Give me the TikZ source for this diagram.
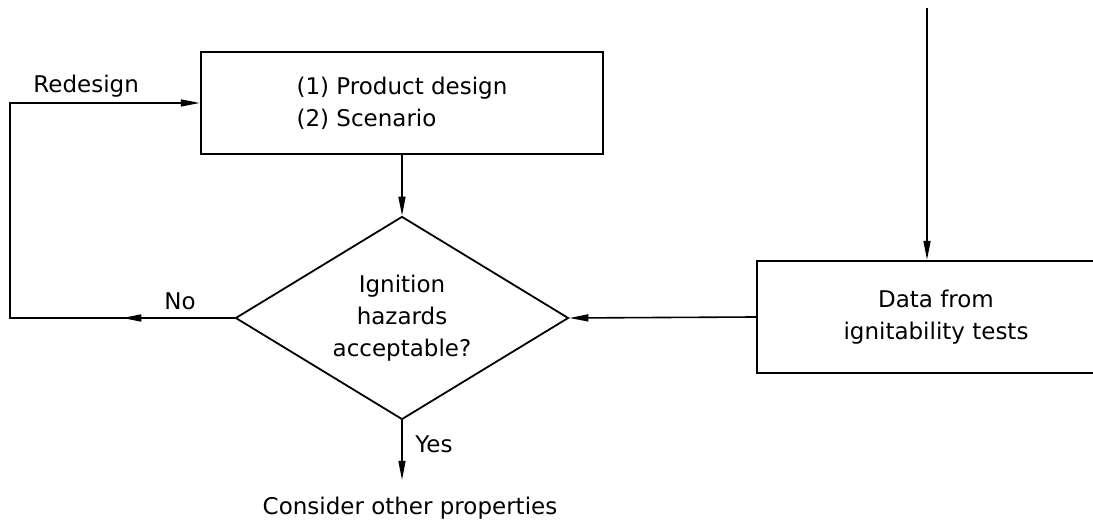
\documentclass[tikz,border=0pt]{standalone}
\usepackage{fontspec}
\setmainfont{DejaVu Sans}
\usetikzlibrary{shapes.geometric,arrows.meta,calc}

\begin{document}
\begin{tikzpicture}[x=0.5pt,y=-0.5pt,
    box/.style={draw,line width=1.2pt,minimum width=201pt,minimum height=51pt,inner sep=0pt},
    test/.style={diamond,draw,line width=0.9pt,aspect=1.64,minimum width=166.5pt,minimum height=101.5pt,inner sep=0pt,align=center},
    link/.style={line width=0.8pt},
    flow/.style={link,-{Triangle[length=9.5pt,width=3.5pt]}},
    lbl/.style={inner sep=0pt},
    font=\fontsize{11.5}{16}\selectfont]
       \useasboundingbox (0,0) rectangle (1093,528);
       \node[box,align=left] (design) at (402,103) {(1) Product design\\(2) Scenario};
       \node[test] (check) at (402,318) {Ignition\\hazards\\acceptable?};
       \node[box,minimum width=179pt,minimum height=56pt,align=center] (data) at (936,317) {Data from\\ignitability tests};
       \coordinate (src) at (927,8);
       \coordinate (bend) at (10,318);
       \coordinate (out) at (402,480);
       \coordinate (half) at ($(check.west)!.5!(bend)$);

       \node[lbl,anchor=base west] at (33,93) {Redesign};
       \node[lbl,anchor=base] at (180,310) {No};
       \node[lbl,anchor=base west] at (415,453) {Yes};
       \node[lbl,anchor=base] (consider) at (410,515) {Consider other properties};

       \draw[flow] (src) -- (src |- data.north);
       \draw[flow] (design.south) -- (check.north);
       \draw[flow] (data.west) -- (check.east);
       \draw[flow] (check.south) -- (out);
       % back to the design box, with a tip half way along the first leg
       \draw[flow] (check.west) -- (bend) |- (design.west);
       \draw[flow] (check.west) -- (half);
     \end{tikzpicture}
\end{document}
